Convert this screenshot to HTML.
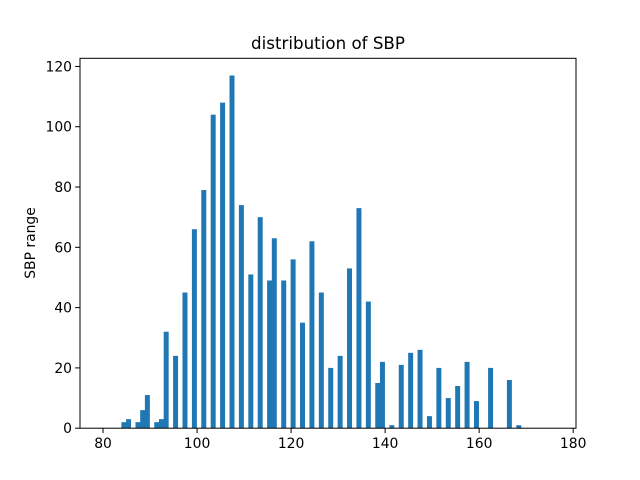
<!DOCTYPE html>
<html><head><meta charset="utf-8"><style>
body{margin:0;background:#fff}
svg{display:block;font-family:"DejaVu Sans","Liberation Sans",sans-serif}
</style></head><body>
<svg id="chart" width="640" height="480">
<rect width="640" height="480" fill="#fff"/>
<text x="328" y="49" font-size="16.7" text-anchor="middle">distribution of SBP</text>
<text transform="translate(35,243) rotate(-90)" font-size="13.9" text-anchor="middle">SBP range</text>
<g id="bars"></g>
<g id="ticks"></g>
<rect x="80" y="58.3" width="496" height="369.9" fill="none" stroke="#000" stroke-width="1"/>
</svg>
<script>
const sbpValues = [84,85,87,88,89,91,92,93,95,97,99,101,103,105,107,109,111,113,115,116,118,120,122,124,126,128,130,132,134,136,138,139,141,143,145,147,149,151,153,155,157,159,162,166,168];
const counts = [2,3,2,6,11,2,3,32,24,45,66,79,104,108,117,74,51,70,49,63,49,56,35,62,45,20,24,53,73,42,15,22,1,21,25,26,4,20,10,14,22,9,20,16,1];
const xTicks = [80,100,120,140,160,180];
const yTicks = [0,20,40,60,80,100,120];
const X0=75.1, X1=180.6, Y1=122.7;
const L=80,R=576,T=58.3,B=428.2;
const sx=v=>L+(v-X0)/(X1-X0)*(R-L);
const sy=v=>B-v/Y1*(B-T);
const NS="http://www.w3.org/2000/svg";
const bars=document.getElementById('bars'), ticks=document.getElementById('ticks');
sbpValues.forEach((v,i)=>{
  const r=document.createElementNS(NS,'rect');
  const x0=sx(v-0.1), x1=sx(v+0.96);
  r.setAttribute('x',x0);r.setAttribute('width',x1-x0);
  r.setAttribute('y',sy(counts[i]));r.setAttribute('height',B-sy(counts[i]));
  r.setAttribute('fill','#1f77b4');
  
  
  bars.appendChild(r);
});
xTicks.forEach(t=>{
  const x=sx(t);
  const l=document.createElementNS(NS,'line');
  l.setAttribute('x1',x);l.setAttribute('x2',x);l.setAttribute('y1',B);l.setAttribute('y2',B+4.9);l.setAttribute('stroke','#000');
  
  
  ticks.appendChild(l);
  const s=document.createElementNS(NS,'text');
  s.setAttribute('x',x);s.setAttribute('y',B+20);s.setAttribute('font-size','13.9');s.setAttribute('text-anchor','middle');
  s.textContent=t;
  
  
  ticks.appendChild(s);
});
yTicks.forEach(t=>{
  const y=sy(t);
  const l=document.createElementNS(NS,'line');
  l.setAttribute('x1',L-4.9);l.setAttribute('x2',L);l.setAttribute('y1',y);l.setAttribute('y2',y);l.setAttribute('stroke','#000');
  
  
  ticks.appendChild(l);
  const s=document.createElementNS(NS,'text');
  s.setAttribute('x',L-8);s.setAttribute('y',y+5);s.setAttribute('font-size','13.9');s.setAttribute('text-anchor','end');
  s.textContent=t;
  
  
  ticks.appendChild(s);
});
</script>
</body></html>
